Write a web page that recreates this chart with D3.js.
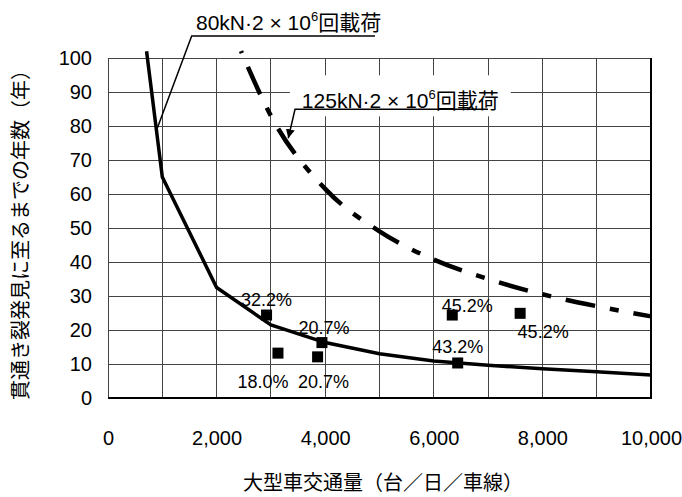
<!DOCTYPE html>
<html>
<head>
<meta charset="utf-8">
<script src="https://cdn.jsdelivr.net/npm/d3@7"></script>
<style>
body { margin: 0; background: #fff; }
text { font-family: "Liberation Sans", Arial, "Noto Sans CJK JP", sans-serif; fill: #000; }
</style>
</head>
<body>
<script>
// 80kN curve (solid)
var load80X = [710, 1000, 2000, 3000, 4000, 5000, 6000, 7000, 8000, 9000, 10000];
var load80Y = [102, 65, 32.5, 21.5, 16.3, 13, 10.9, 9.6, 8.6, 7.7, 6.8];
// 125kN curve (dash-dot)
var load125X = [2450, 3000, 4000, 5000, 6000, 7000, 8000, 9000, 10000];
var load125Y = [102, 83, 61.5, 49, 40.7, 35, 30.5, 27, 24];
// observed bridges
var obsX = [2920, 3130, 3940, 3860, 6340, 7590, 6440];
var obsY = [24.4, 13.2, 16.3, 12.1, 24.4, 24.9, 10.3];
var obsLabel = ["32.2%", "18.0%", "20.7%", "20.7%", "45.2%", "45.2%", "43.2%"];
var xTicks = [0, 2000, 4000, 6000, 8000, 10000];
var yTicks = [0, 10, 20, 30, 40, 50, 60, 70, 80, 90, 100];

var canvasWidth = 682, canvasHeight = 497;
var margin = { top: 58, right: 31, bottom: 99, left: 108 };
var width = canvasWidth - margin.left - margin.right;
var height = canvasHeight - margin.top - margin.bottom;

// label placement relative to each square (px)
var labelOffset = [[0, -9], [-15, 35], [2, -9], [6, 31], [15, -3], [23, 25], [0, -10]];

var svg = d3.select("body").append("svg")
    .attr("width", canvasWidth)
    .attr("height", canvasHeight);

var x = d3.scaleLinear().domain([0, 10000]).range([margin.left, margin.left + width]);
var y = d3.scaleLinear().domain([0, 100]).range([margin.top + height, margin.top]);

// grid
var grid = svg.append("g").attr("shape-rendering", "crispEdges");
grid.selectAll(".vg").data(d3.range(0, 10001, 1000)).enter().append("line")
    .attr("x1", d => x(d)).attr("x2", d => x(d))
    .attr("y1", y(0)).attr("y2", y(100))
    .attr("stroke", "#444").attr("stroke-width", 1);
grid.selectAll(".hg").data(yTicks).enter().append("line")
    .attr("x1", x(0)).attr("x2", x(10000))
    .attr("y1", d => y(d)).attr("y2", d => y(d))
    .attr("stroke", "#444").attr("stroke-width", 1);
// right and bottom border
grid.append("path")
    .attr("d", "M" + x(10000) + "," + y(100) + "V" + y(0) + "H" + x(0))
    .attr("fill", "none").attr("stroke", "#000").attr("stroke-width", 1.5);

// axes (labels only)
var xAxis = svg.append("g")
    .attr("transform", "translate(0," + (y(0) + 30) + ")")
    .call(d3.axisBottom(x).tickValues(xTicks).tickSize(0).tickFormat(d3.format(",")));
xAxis.select(".domain").remove();
xAxis.selectAll("text").attr("font-size", "20px").attr("font-family", null);

var yAxis = svg.append("g")
    .attr("transform", "translate(" + (x(0) - 16) + ",0)")
    .call(d3.axisLeft(y).tickValues(yTicks).tickSize(0));
yAxis.select(".domain").remove();
yAxis.selectAll("text").attr("font-size", "20px").attr("font-family", null).attr("x", 0);

// white box behind 125kN label
var labelBox = svg.append("rect").attr("fill", "#fff");

// curves
var line = d3.line().x(d => x(d[0])).y(d => y(d[1]));
svg.append("path")
    .datum(load80X.map((v, i) => [v, load80Y[i]]))
    .attr("d", line)
    .attr("fill", "none").attr("stroke", "#000").attr("stroke-width", 3.5)
    .attr("stroke-linejoin", "miter");
svg.append("path")
    .datum(load125X.map((v, i) => [v, load125Y[i]]))
    .attr("d", line.curve(d3.curveMonotoneX))
    .attr("fill", "none").attr("stroke", "#000").attr("stroke-width", 4.5)
    .attr("stroke-dasharray", "30,15,9,15")
    .attr("stroke-dashoffset", 52);

// squares
var sq = 11;
svg.selectAll(".pt").data(obsX).enter().append("rect")
    .attr("x", (d, i) => x(d) - sq / 2)
    .attr("y", (d, i) => y(obsY[i]) - sq / 2)
    .attr("width", sq).attr("height", sq)
    .attr("fill", "#000");
svg.selectAll(".pl").data(obsLabel).enter().append("text")
    .attr("x", (d, i) => x(obsX[i]) + labelOffset[i][0])
    .attr("y", (d, i) => y(obsY[i]) + labelOffset[i][1])
    .attr("text-anchor", "middle")
    .attr("font-size", "18px")
    .text(d => d);

// annotations
svg.append("defs").append("marker")
    .attr("id", "arr").attr("viewBox", "0 0 10 10")
    .attr("refX", 10).attr("refY", 5)
    .attr("markerWidth", 9).attr("markerHeight", 9)
    .attr("markerUnits", "userSpaceOnUse")
    .attr("orient", "auto")
    .append("path").attr("d", "M0,0L10,5L0,10z").attr("fill", "#000");

function loadLabel(g, kn, tx, ty) {
    var t = g.append("text").attr("x", tx).attr("y", ty).attr("font-size", "21px");
    t.append("tspan").text(kn + "kN\u00b72 \u00d7 10");
    t.append("tspan").attr("font-size", "13px").attr("dy", -9).text("6");
    t.append("tspan").attr("dy", 9).text("回載荷");
    return t;
}

var ann = svg.append("g");
ann.append("path")
    .attr("d", "M" + x(4917) + "," + (y(100) - 22) + "H" + x(1541) + "L" + x(902) + "," + y(79.1))
    .attr("fill", "none").attr("stroke", "#000").attr("stroke-width", 1.5);
loadLabel(ann, 80, x(1620), y(100) - 28);

var t125 = loadLabel(ann, 125, x(3570), y(84.9) - 1);
var bb = t125.node().getBBox();
labelBox.attr("x", bb.x - 12).attr("y", bb.y - 12)
    .attr("width", bb.width + 24).attr("height", bb.height + 16);
ann.append("path")
    .attr("d", "M" + x(6998) + "," + y(84.9) + "H" + x(3444) + "L" + x(3320) + "," + y(76.4))
    .attr("fill", "none").attr("stroke", "#000").attr("stroke-width", 1.5)
    .attr("marker-end", "url(#arr)");

// axis titles
svg.append("text")
    .attr("x", 383).attr("y", 490)
    .attr("text-anchor", "middle").attr("font-size", "20px")
    .text("大型車交通量（台／日／車線）");
svg.append("text")
    .attr("transform", "translate(28," + (y(50) + 2) + ") rotate(-90)")
    .attr("text-anchor", "middle").attr("font-size", "20px")
    .text("貫通き裂発見に至るまでの年数（年）");
</script>
</body>
</html>
